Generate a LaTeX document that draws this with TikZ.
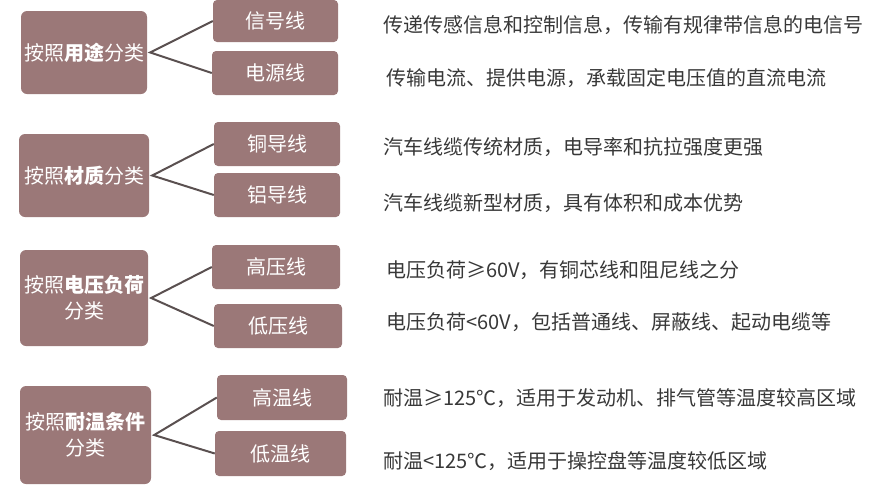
\documentclass[tikz,border=0pt]{standalone}
\usepackage{fontspec}
\setmainfont{Noto Sans CJK SC}
\usepackage{xcolor}
\usepackage{tikz}
\usetikzlibrary{positioning, calc}
\definecolor{boxfill}{HTML}{9B7878}
\definecolor{linkgray}{HTML}{5A5050}
\definecolor{descgray}{HTML}{383838}
\tikzset{every picture/.style={font issue=\fontsize{20pt}{26pt}},
         font issue/.style={execute at begin picture={#1\selectfont}}
        }

\begin{document}
\begin{tikzpicture}[x=1pt, y=-1pt,
  mainbox/.style={fill=boxfill, rounded corners=6pt, text=white, inner sep=0pt, align=center},
  subbox/.style={fill=boxfill, rounded corners=4pt, text=white, inner sep=0pt, minimum width=126pt, minimum height=44pt},
  desc/.style={anchor=west, text=descgray, inner sep=0pt},
  link/.style={linkgray, line width=2pt}]

\useasboundingbox (0,0) rectangle (880,490);

%first group
\node[mainbox, minimum width=126pt, minimum height=83pt] (use) at (84,52.5) {按照\textbf{用途}分类};
\node[subbox, minimum width=125pt, minimum height=42pt] (sig) at (275.5,21) {信号线};
\node[subbox] (pow) at (275,73) {电源线};
\coordinate (useJ) at ($(use.east)+(3,0)$);
\draw[link] (sig.west) -- (useJ) -- (pow.west);
\node[desc] (sigtxt) at (383,25) {传递传感信息和控制信息，传输有规律带信息的电信号};
\node[desc] (powtxt) at (386,78) {传输电流、提供电源，承载固定电压值的直流电流};

%second group
\node[mainbox, minimum width=130pt, minimum height=83pt] (mat) at (84,175.5) {按照\textbf{材质}分类};
\node[subbox] (cu) at (277,144) {铜导线};
\node[subbox] (al) at (277,195) {铝导线};
\coordinate (matJ) at ($(mat.east)+(3,0)$);
\draw[link] (cu.west) -- (matJ) -- (al.west);
\node[desc] (cutxt) at (383,147) {汽车线缆传统材质，电导率和抗拉强度更强};
\node[desc] (altxt) at (383,203) {汽车线缆新型材质，具有体积和成本优势};

%third group
\node[mainbox, minimum width=128pt, minimum height=96pt] (volt) at (84,298) {按照\textbf{电压负荷}\\分类};
\node[subbox, minimum width=128pt] (hv) at (276,267) {高压线};
\node[subbox, minimum width=128pt] (lv) at (278,326) {低压线};
\coordinate (voltJ) at ($(volt.east)+(3,0)$);
\draw[link] (hv.west) -- (voltJ) -- (lv.west);
\node[desc] (hvtxt) at (386,270) {电压负荷≥60V，有铜芯线和阻尼线之分};
\node[desc] (lvtxt) at (386,322) {电压负荷<60V，包括普通线、屏蔽线、起动电缆等};

%fourth group
\node[mainbox, minimum width=131pt, minimum height=98pt] (temp) at (85.5,435) {按照\textbf{耐温条件}\\分类};
\node[subbox, minimum width=130pt, minimum height=45pt] (ht) at (282,397.5) {高温线};
\node[subbox, minimum width=131pt, minimum height=45pt] (lt) at (280.5,453.5) {低温线};
\coordinate (tempJ) at ($(temp.east)+(3,0)$);
\draw[link] (ht.west) -- (tempJ) -- (lt.west);
\node[desc] (httxt) at (383,398) {耐温≥125℃，适用于发动机、排气管等温度较高区域};
\node[desc] (lttxt) at (383,461) {耐温<125℃，适用于操控盘等温度较低区域};

\end{tikzpicture}
\end{document}
